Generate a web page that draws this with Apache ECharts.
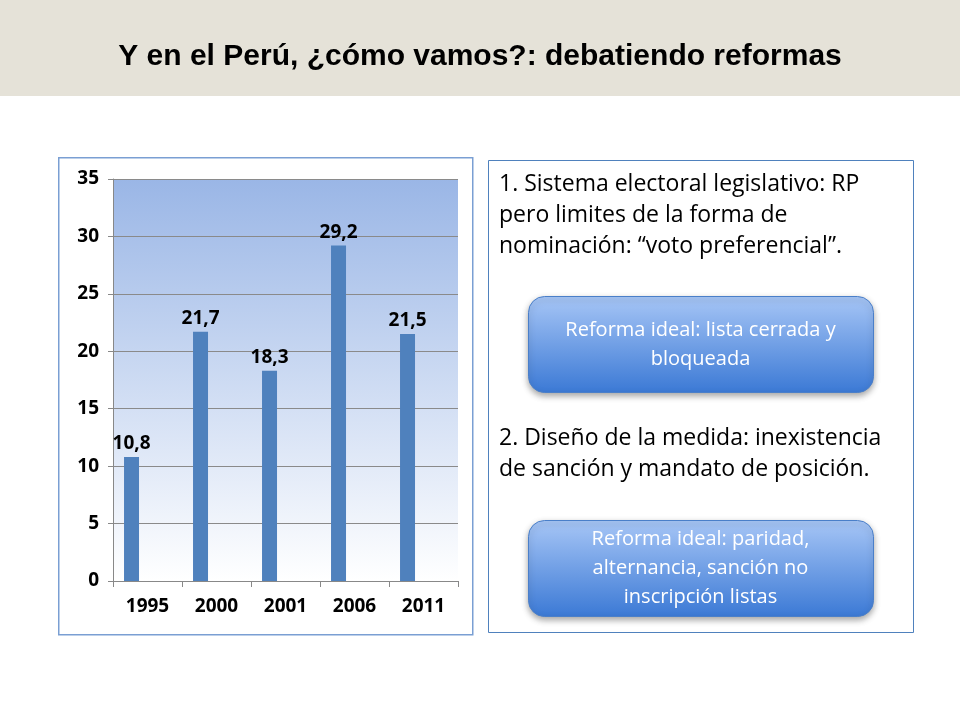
<!DOCTYPE html>
<html><head><meta charset="utf-8">
<script src="https://cdn.jsdelivr.net/npm/echarts@6/dist/echarts.min.js"></script>
<style>html,body{margin:0;padding:0;background:#fff}#c{width:960px;height:720px}</style>
</head><body><div id="c"></div>
<script>
var years = ['1995', '2000', '2001', '2006', '2011'];
var values = [10.8, 21.7, 18.3, 29.2, 21.5];
var emptySeries = [null, null, null, null, null];
var yTicks = [0, 5, 10, 15, 20, 25, 30, 35];

var chart = echarts.init(document.getElementById('c'));
var font = '"Open Sans", "Liberation Sans", sans-serif';

function btn(y, h, txt) {
    return {
        type: 'group', left: 528, top: y, children: [
            { type: 'rect', shape: { x: 0, y: 0, width: 345, height: h, r: 16 },
              style: { fill: new echarts.graphic.LinearGradient(0, 0, 0, 1, [
                  { offset: 0, color: '#a7c6f6' }, { offset: 1, color: '#3b79d5' }]),
                  stroke: '#4a7fc9', lineWidth: 1, shadowBlur: 6, shadowOffsetY: 3, shadowColor: 'rgba(0,0,0,0.35)' } },
            { type: 'text', style: { x: 172, y: h / 2, text: txt, fill: '#fff', font: '20px ' + font,
              align: 'center', verticalAlign: 'middle', lineHeight: 29 } }
        ]
    };
}

var option = {
    animation: false,
    graphic: [
        { type: 'rect', left: 0, top: 0, shape: { width: 960, height: 96 }, style: { fill: '#e5e2d8' }, z: -10 },
        { type: 'text', left: 'center', top: 42, style: { text: 'Y en el Perú, ¿cómo vamos?: debatiendo reformas',
            fill: '#000', font: 'bold 30px "Liberation Sans", Arial, sans-serif' } },
        { type: 'rect', left: 58, top: 157, shape: { width: 414, height: 477 },
          style: { fill: '#fff', stroke: '#7a9fd3', lineWidth: 1.5 }, z: -10 },
        { type: 'rect', left: 113, top: 179, shape: { width: 345, height: 402 },
          style: { fill: new echarts.graphic.LinearGradient(0, 0, 0, 1, [
              { offset: 0, color: '#9ab6e6' }, { offset: 1, color: '#ffffff' }]) }, z: -5 },
        { type: 'rect', left: 488, top: 160, shape: { width: 425, height: 472 },
          style: { fill: '#fff', stroke: '#4f81bd', lineWidth: 1 }, z: -10 },
        { type: 'text', left: 499, top: 169, style: { text: '1. Sistema electoral legislativo: RP\npero limites de la forma de\nnominación: “voto preferencial”.',
            fill: '#000', font: '23px ' + font, lineHeight: 31 } },
        { type: 'text', left: 499, top: 423, style: { text: '2. Diseño de la medida: inexistencia\nde sanción y mandato de posición.',
            fill: '#000', font: '23px ' + font, lineHeight: 31 } },
        btn(296, 96, 'Reforma ideal: lista cerrada y\nbloqueada'),
        btn(520, 96, 'Reforma ideal: paridad,\nalternancia, sanción no\ninscripción listas')
    ],
    grid: { left: 113, top: 179, width: 345, height: 402 },
    xAxis: {
        type: 'category', data: years,
        axisLine: { lineStyle: { color: '#888' } }, axisTick: { show: true, length: 6, lineStyle: { color: '#888' } },
        axisLabel: { color: '#000', fontSize: 19, fontWeight: 'bold', fontFamily: font, margin: 16 }
    },
    yAxis: {
        type: 'value', min: 0, max: 35, interval: 5,
        axisLine: { show: true, lineStyle: { color: '#888' } }, axisTick: { show: true, lineStyle: { color: '#888' } },
        splitLine: { lineStyle: { color: '#8a8a8a' } },
        axisLabel: { color: '#000', fontSize: 19, fontWeight: 'bold', fontFamily: font, margin: 14,
            formatter: function (v) { return yTicks.indexOf(v) >= 0 ? String(v) : ''; } }
    },
    series: [{
        type: 'bar', data: values, barWidth: 15, barGap: '113%',
        itemStyle: { color: '#4f81bd' },
        label: { show: true, position: 'top', color: '#000', fontSize: 19, fontWeight: 'bold', fontFamily: font, distance: 4,
            formatter: function (p) { return String(p.value).replace('.', ','); } }
    }, {
        type: 'bar', data: emptySeries, barWidth: 15, itemStyle: { color: '#c0504d' }
    }]
};
chart.setOption(option);
</script></body></html>
